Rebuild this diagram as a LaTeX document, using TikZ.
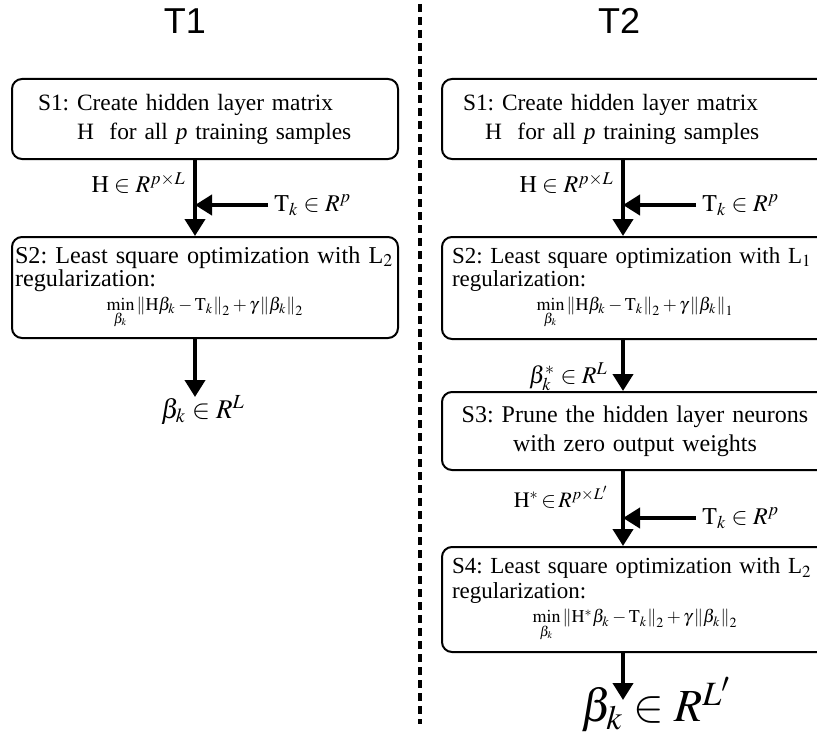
\documentclass[tikz,border=0pt]{standalone}
\usepackage{mathptmx}
\usepackage{fontspec}
\setmainfont{Liberation Serif}
\newfontfamily\headfont{Liberation Sans}
\usetikzlibrary{arrows.meta}
\frenchspacing

\newcommand{\eqline}[1]{\makebox[190pt]{\fontsize{9}{11}\selectfont$#1$}}

\begin{document}
\begin{tikzpicture}[x=0.5pt, y=-0.5pt,
  stage/.style={draw, line width=1pt, rounded corners=5pt, text width=190pt, inner xsep=1.5pt, inner ysep=0pt, align=left},
  flow/.style={line width=2pt, -{Triangle[width=10pt,length=8.5pt]}},
  lbl/.style={inner sep=3pt, font=\fontsize{12}{14}\selectfont},
  head/.style={font=\headfont\fontsize{18}{20}\selectfont}]

\useasboundingbox (0,0) rectangle (817,738);
\clip (0,0) rectangle (817,738);

\node[head] (t1) at (185,21) {T1};
\node[head] (t2) at (619,21) {T2};

\draw[line width=2.2pt, dash pattern=on 4pt off 2.5pt] (420,4) -- (420,724);

\coordinate (colL) at (195,0);
\coordinate (colR) at (623,0);

% T1
\node[stage, minimum height=40pt, font=\fontsize{11.7}{14.5}\selectfont] (s1L) at (205,119)
  {\hspace*{11.5pt}\mbox{S1: Create hidden layer matrix}\\
   \hspace*{31pt}\mbox{H\ \ for all \textit{p} training samples}};
\node[stage, minimum height=50.5pt, font=\fontsize{12.1}{11.8}\selectfont] (s2L) at (205,287.5)
  {\mbox{S2: Least square optimization with L$_2$}\\
   regularization:\\
   \eqline{\min\limits_{\beta_k}\left\|\mathrm{H}\beta_k-\mathrm{T}_k\right\|_2+\gamma\left\|\beta_k\right\|_2}};

\node[lbl, anchor=east] (hL) at (192,183) {$\mathrm{H}\in R^{p\times L}$};
\node[lbl, anchor=west] (tkL) at (268,205) {$\mathrm{T}_k\in R^p$};
\coordinate (endL) at (195,397);
\node[inner sep=0pt, font=\fontsize{13.5}{15}\selectfont] (bL) at (203,410) {$\beta_k\in R^L$};

\draw[flow] (s1L.south -| colL) -- (s2L.north -| colL);
\draw[flow] (tkL.west) -- (tkL.west -| colL);
\draw[flow] (s2L.south -| colL) -- (endL);

% T2
\node[stage, minimum height=40pt, font=\fontsize{11.7}{14.5}\selectfont] (s1R) at (635,119)
  {\hspace*{9pt}\mbox{S1: Create hidden layer matrix}\\
   \hspace*{20pt}\mbox{H\ \ for all \textit{p} training samples}};
\node[stage, minimum height=51pt, font=\fontsize{11.5}{11.8}\selectfont] (s2R) at (635,288)
  {\hspace*{3.5pt}\mbox{S2: Least square optimization with L$_1$}\\
   \hspace*{3.5pt}regularization:\\
   \eqline{\min\limits_{\beta_k}\left\|\mathrm{H}\beta_k-\mathrm{T}_k\right\|_2+\gamma\left\|\beta_k\right\|_1}};
\node[stage, minimum height=39pt, align=center, font=\fontsize{12}{14.5}\selectfont] (s3R) at (635,431)
  {S3: Prune the hidden layer neurons\\ with zero output weights};
\node[stage, minimum height=52.5pt, font=\fontsize{11.5}{12.2}\selectfont] (s4R) at (635,599.5)
  {\hspace*{3.5pt}\mbox{S4: Least square optimization with L$_2$}\\
   \hspace*{3.5pt}regularization:\\
   \eqline{\min\limits_{\beta_k}\left\|\mathrm{H}^*\beta_k-\mathrm{T}_k\right\|_2+\gamma\left\|\beta_k\right\|_2}};

\node[lbl, anchor=east] (hR) at (620,183) {$\mathrm{H}\in R^{p\times L}$};
\node[lbl, anchor=west] (tkR1) at (696,205) {$\mathrm{T}_k\in R^p$};
\node[lbl, anchor=east] (bsR) at (614,377) {$\beta_k^*\in R^L$};
\node[lbl, anchor=east, font=\fontsize{11}{13}\selectfont] (hsR) at (615,497) {$\mathrm{H}^*\!\in\! R^{p\times L'}$};
\node[lbl, anchor=west] (tkR2) at (696,518) {$\mathrm{T}_k\in R^p$};
\coordinate (endR) at (623,700);
\node[inner sep=0pt, font=\fontsize{23}{25}\selectfont] (bR) at (656,705) {$\beta_k\in R^{L'}$};

\draw[flow] (s1R.south -| colR) -- (s2R.north -| colR);
\draw[flow] (tkR1.west) -- (tkR1.west -| colR);
\draw[flow] (s2R.south -| colR) -- (s3R.north -| colR);
\draw[flow] (s3R.south -| colR) -- (s4R.north -| colR);
\draw[flow] (tkR2.west) -- (tkR2.west -| colR);
\draw[flow] (s4R.south -| colR) -- (endR);
\end{tikzpicture}
\end{document}
